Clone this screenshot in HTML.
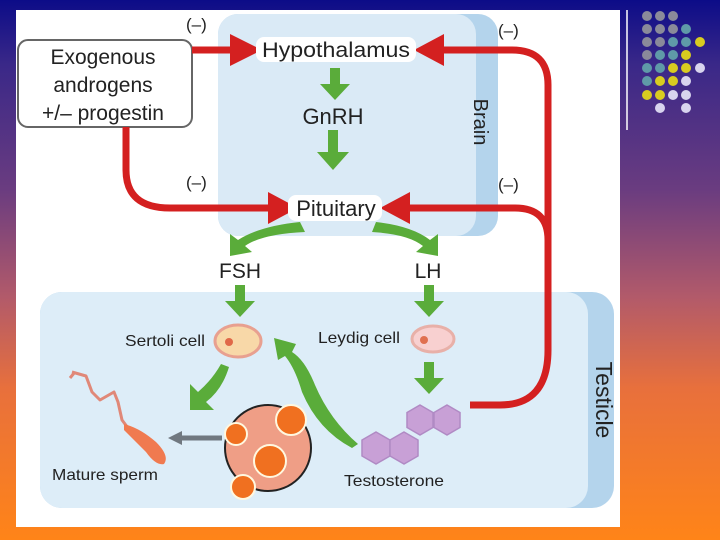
<!DOCTYPE html>
<html><head><meta charset="utf-8"><style>
html,body{margin:0;padding:0}
body{width:720px;height:540px;overflow:hidden;background:linear-gradient(#0c0c88 0%,#3a2888 12%,#6a3c80 35%,#b25a6a 55%,#e8703c 72%,#ff8418 100%);position:relative;font-family:"Liberation Sans",sans-serif}
svg{position:absolute;left:0;top:0}
</style></head><body>
<svg width="720" height="540" viewBox="0 0 720 540">
<rect x="16" y="10" width="604" height="517" fill="#fff"/>
<line x1="627" y1="10" x2="627" y2="130" stroke="#fff" stroke-width="1.5"/>
<g>
<circle cx="647" cy="16" r="5" fill="#8a8a9a"/><circle cx="660" cy="16" r="5" fill="#8a8a9a"/><circle cx="673" cy="16" r="5" fill="#8a8a9a"/>
<circle cx="647" cy="29" r="5" fill="#8a8a9a"/><circle cx="660" cy="29" r="5" fill="#8a8a9a"/><circle cx="673" cy="29" r="5" fill="#8a8a9a"/><circle cx="686" cy="29" r="5" fill="#5f9aa8"/>
<circle cx="647" cy="42" r="5" fill="#8a8a9a"/><circle cx="660" cy="42" r="5" fill="#8a8a9a"/><circle cx="673" cy="42" r="5" fill="#5f9aa8"/><circle cx="686" cy="42" r="5" fill="#5f9aa8"/><circle cx="700" cy="42" r="5" fill="#d8cc20"/>
<circle cx="647" cy="55" r="5" fill="#8a8a9a"/><circle cx="660" cy="55" r="5" fill="#5f9aa8"/><circle cx="673" cy="55" r="5" fill="#5f9aa8"/><circle cx="686" cy="55" r="5" fill="#d8cc20"/>
<circle cx="647" cy="68" r="5" fill="#5f9aa8"/><circle cx="660" cy="68" r="5" fill="#5f9aa8"/><circle cx="673" cy="68" r="5" fill="#d8cc20"/><circle cx="686" cy="68" r="5" fill="#d8cc20"/><circle cx="700" cy="68" r="5" fill="#d8d4ee"/>
<circle cx="647" cy="81" r="5" fill="#5f9aa8"/><circle cx="660" cy="81" r="5" fill="#d8cc20"/><circle cx="673" cy="81" r="5" fill="#d8cc20"/><circle cx="686" cy="81" r="5" fill="#d8d4ee"/>
<circle cx="647" cy="95" r="5" fill="#d8cc20"/><circle cx="660" cy="95" r="5" fill="#d8cc20"/><circle cx="673" cy="95" r="5" fill="#d8d4ee"/><circle cx="686" cy="95" r="5" fill="#d8d4ee"/>
<circle cx="660" cy="108" r="5" fill="#d8d4ee"/><circle cx="686" cy="108" r="5" fill="#d8d4ee"/>
</g>
<rect x="218" y="14" width="280" height="222" rx="20" fill="#b4d4ec"/>
<rect x="218" y="14" width="258" height="222" rx="20" fill="#daeaf6"/>
<text transform="translate(474,122) rotate(90)" font-size="20" text-anchor="middle" fill="#222">Brain</text>
<rect x="40" y="292" width="574" height="216" rx="22" fill="#b4d4ec"/>
<rect x="40" y="292" width="548" height="216" rx="22" fill="#ddedf8"/>
<text transform="translate(596,400) rotate(90)" font-size="23" text-anchor="middle" fill="#222">Testicle</text>
<rect x="18" y="40" width="174" height="87" rx="10" fill="#fff" stroke="#666" stroke-width="2"/>
<g font-size="21" text-anchor="middle" fill="#222">
<text x="103" y="64">Exogenous</text>
<text x="103" y="92">androgens</text>
<text x="103" y="120">+/– progestin</text>
</g>
<g fill="none" stroke="#d42020" stroke-width="7">
<path d="M192,50 L232,50"/>
<path d="M126,127 L126,170 Q126,208 170,208 L272,208"/>
<path d="M470,405 L500,405 Q548,405 548,350 L548,85 Q548,50 512,50 L440,50"/>
<path d="M548,240 Q548,208 515,208 L405,208"/>
</g>
<g fill="#d42020">
<path d="M230,34 L262,50 L230,66z"/>
<path d="M268,192 L298,208 L268,224z"/>
<path d="M444,34 L414,50 L444,66z"/>
<path d="M410,192 L380,208 L410,224z"/>
</g>
<g font-size="17" fill="#222"><text x="186" y="30">(–)</text><text x="498" y="36">(–)</text><text x="186" y="188">(–)</text><text x="498" y="190">(–)</text></g>
<rect x="256" y="37" width="160" height="25" rx="8" fill="#fff"/>
<text x="336" y="57" font-size="21" text-anchor="middle" fill="#222" textLength="148" lengthAdjust="spacingAndGlyphs">Hypothalamus</text>
<text x="333" y="124" font-size="22" text-anchor="middle" fill="#222">GnRH</text>
<rect x="288" y="195" width="94" height="26" rx="8" fill="#fff"/>
<text x="336" y="216" font-size="22" text-anchor="middle" fill="#222">Pituitary</text>
<g fill="#5aac3a">
<path d="M330,68 h10 v16 h10 l-15,16 l-15,-16 h10z"/>
<path d="M328,130 h10 v22 h11 l-16,18 l-16,-18 h11z"/>
<path d="M300,222 Q260,226 238,240 l-8,-6 l0,22 l22,-4 l-7,-6 Q262,234 305,232z"/>
<path d="M376,222 Q412,226 430,240 l8,-6 l0,22 l-22,-4 l7,-6 Q408,234 372,232z"/>
<path d="M235,285 h10 v16 h10 l-15,16 l-15,-16 h10z"/>
<path d="M424,285 h10 v16 h10 l-15,16 l-15,-16 h10z"/>
<path d="M424,362 h10 v16 h10 l-15,16 l-15,-16 h10z"/>
<path d="M221,364 L229,367 Q222,390 206,402 L214,410 L190,410 L190,384 L198,392 Q212,380 221,364z"/>
<path d="M358,444 Q330,420 315,385 Q305,360 292,352 L296,344 L274,338 L278,360 L285,356 Q295,368 302,392 Q318,430 352,448z"/>
</g>
<g font-size="21" text-anchor="middle" fill="#222"><text x="240" y="278">FSH</text><text x="428" y="278">LH</text></g>
<g font-size="16" fill="#222"><text x="125" y="346" textLength="80" lengthAdjust="spacingAndGlyphs">Sertoli cell</text><text x="318" y="343" textLength="82" lengthAdjust="spacingAndGlyphs">Leydig cell</text><text x="52" y="480" textLength="106" lengthAdjust="spacingAndGlyphs">Mature sperm</text><text x="344" y="486" textLength="100" lengthAdjust="spacingAndGlyphs">Testosterone</text></g>
<ellipse cx="238" cy="341" rx="23" ry="16" fill="#f8d8a8" stroke="#e8a090" stroke-width="3"/>
<circle cx="229" cy="342" r="4" fill="#e06848"/>
<ellipse cx="433" cy="339" rx="21" ry="13" fill="#f8d0d0" stroke="#e8b0a8" stroke-width="3"/>
<circle cx="424" cy="340" r="4" fill="#e07050"/>
<circle cx="268" cy="448" r="43" fill="#ef9e86" stroke="#222" stroke-width="2"/>
<g stroke="#fff8e0" stroke-width="2" fill="#f07020">
<circle cx="291" cy="420" r="15"/><circle cx="270" cy="461" r="16"/><circle cx="236" cy="434" r="11"/><circle cx="243" cy="487" r="12"/>
</g>
<path d="M222,438 L180,438" stroke="#707880" stroke-width="5"/>
<path d="M182,431 L168,438 L182,445z" fill="#707880"/>
<path d="M75,372 L70,378 M72,372 L86,376 L92,392 L100,400 L114,392 L118,402 L122,420 L128,428" fill="none" stroke="#e08878" stroke-width="3" stroke-linejoin="round"/>
<path d="M124,424 Q140,428 156,442 Q170,456 164,464 Q156,466 146,452 Q134,440 124,430z" fill="#f07a50"/>
<g fill="#c8a0d6" stroke="#b08ac4" stroke-width="1.5">
<path d="M420,405 l13,7.5 v15 l-13,7.5 l-13,-7.5 v-15z"/>
<path d="M447,405 l13,7.5 v15 l-13,7.5 l-13,-7.5 v-15z"/>
<path d="M376,432 l14,8 v16 l-14,8 l-14,-8 v-16z"/>
<path d="M404,432 l14,8 v16 l-14,8 l-14,-8 v-16z"/>
</g>
</svg>
</body></html>
